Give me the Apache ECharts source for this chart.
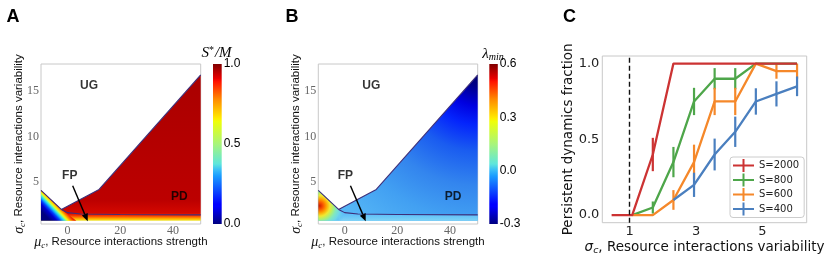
<!DOCTYPE html>
<html><head><meta charset="utf-8">
<script src="https://cdn.jsdelivr.net/npm/echarts@6/dist/echarts.min.js"></script>
<style>html,body{margin:0;padding:0;background:#fff}#c{width:830px;height:261px}</style>
</head><body><div id="c"></div>
<script>
// ---------- Panels A & B : phase diagram in (mu_c, sigma_c) ----------
const muAxis = [-10, 50.5];
const sigmaAxis = [0.4, 18];
const muTicks = [0, 20, 40];
const sigmaTicks = [5, 10, 15];
const sigmaGridMin = 0.75;
// UG / coexistence boundary
const ugBoundaryMu = [-10, -2.3, 12, 50.5];
const ugBoundarySigma = [4.1, 2.0, 4.2, 16.8];
// FP / PD boundary
const fpBoundaryMu = [-2.3, 0, 5, 20, 50.5];
const fpBoundarySigma = [2.0, 1.65, 1.5, 1.45, 1.4];
// isoline bounding the extinct / FP wedge (lower-left corner)
const fpWedgeMu = [-10, -0.6];
const fpWedgeSigma = [3.75, 0.9];
// location of the largest lambda_min (panel B) and of the most negative one
const lambdaPeakMu = -9.5, lambdaPeakSigma = 2.4;
const lambdaLowMu = 50.5, lambdaLowSigma = 17.2;
// phase labels
const phaseLabels = ['UG', 'FP', 'PD'];
const labelMuA = [8.2, 0.9, 42.4];
const labelMuB = [10.1, 0.3, 41.2];
const labelSigma = [15.6, 5.7, 3.4];
const arrowMuA = [2.0, 7.7];
const arrowMuB = [2.2, 8.0];
const arrowSigma = [4.6, 0.7];
// colorbars
const cbA = [0, 1];
const cbATicks = [0, 0.5, 1.0];
const cbB = [-0.3, 0.6];
const cbBTicks = [-0.3, 0, 0.3, 0.6];

// ---------- Panel C ----------
const sigmaC = [0.46, 1.08, 1.7, 2.32, 2.94, 3.56, 4.18, 4.8, 5.42, 6.04];
const cXTicks = [1, 3, 5];
const cYTicks = [0, 0.5, 1.0];
const thresholdSigma = 1;
const sizes = ['S=2000', 'S=800', 'S=600', 'S=400'];
const frac2000 = [0, 0, 0.4, 1, 1, 1, 1, 1, 1, 1];
const err2000  = [0, 0, 0.11, 0, 0, 0, 0, 0, 0, 0];
const frac800  = [null, 0, 0.05, 0.35, 0.75, 0.9, 0.9, 1, 1, 1];
const err800   = [null, 0, 0.04, 0.1, 0.09, 0.07, 0.07, 0, 0, 0];
const frac600  = [null, 0, 0, 0.1, 0.35, 0.75, 0.75, 1, 0.95, 0.95];
const err600   = [null, 0, 0, 0.065, 0.115, 0.09, 0.09, 0, 0.05, 0.05];
const frac400  = [null, null, null, 0.1, 0.2, 0.4, 0.55, 0.75, 0.8, 0.85];
const err400   = [null, null, null, 0, 0.08, 0.105, 0.1, 0.087, 0.083, 0.065];

// ---------- styles ----------
const SANS = 'Liberation Sans', SERIF = 'Liberation Serif', DV = 'DejaVu Sans';
const G = echarts.graphic;
const jet = [
  [0, '#000080'], [0.11, '#0000ff'], [0.125, '#0000ff'], [0.30, '#1a9cff'], [0.34, '#3cc0f6'],
  [0.375, '#5fe6dc'], [0.5, '#a8f57a'], [0.64, '#eeff08'], [0.66, '#ffec00'], [0.78, '#ff8a00'],
  [0.89, '#ff1300'], [0.91, '#e80000'], [1, '#800000']
];
const fieldAStops = [[0.75, '#eee83a'], [0.95, '#ffbe00'], [1.15, '#ff7000'], [1.38, '#f02800'],
  [1.6, '#d40800'], [3, '#bc0000'], [18, '#a80000']];
const wedgeAStops = [[0, '#00007f'], [0.2, '#0000d0'], [0.3, '#0040ff'], [0.38, '#10b0ff'], [0.44, '#40ecd8'],
  [0.5, '#c0ff50'], [0.55, '#ffe800'], [0.62, '#ff9000'], [0.72, '#f52000'], [0.85, 'rgba(215,5,0,0.8)'], [1, 'rgba(200,0,0,0)']];
const fieldBStops = [[0, '#000060'], [0.08, '#00008c'], [0.18, '#0000e0'], [0.28, '#0424fc'],
  [0.42, '#1a5cf0'], [0.6, '#3385ee'], [0.78, '#42a0f2'], [1, '#55b6f6']];
const blobBStops = [[0, '#cc2000'], [0.12, '#f85000'], [0.25, '#ffa000'], [0.38, '#f0e830'],
  [0.5, '#b0f070'], [0.62, '#80e8c0'], [0.76, '#70d8e8'], [0.9, 'rgba(100,200,244,0.6)'], [1, 'rgba(95,190,245,0)']];

function stops(arr) { return arr.map(([o, c]) => ({offset: o, color: c})); }

function phaseRender(panel) {
  return function (params, api) {
    const c = p => api.coord(p);
    const top = ugBoundaryMu.map((m, i) => [m, ugBoundarySigma[i]]);
    const full = top.concat([[muAxis[1], sigmaGridMin], [muAxis[0], sigmaGridMin]]).map(c);
    const yBot = c([0, sigmaGridMin])[1], yTop = c([0, sigmaAxis[1]])[1];
    const children = [];
    if (panel === 'A') {
      const span = sigmaAxis[1] - sigmaGridMin;
      const st = fieldAStops.map(([s, col]) => ({offset: (s - sigmaGridMin) / span, color: col}));
      children.push({type: 'polygon', shape: {points: full}, style: {fill: new G.LinearGradient(0, yBot, 0, yTop, st, true)}});
      const P = c([fpWedgeMu[0], fpWedgeSigma[0]]), Q = c([fpWedgeMu[1], fpWedgeSigma[1]]);
      const dx = Q[0] - P[0], dy = Q[1] - P[1], L = Math.hypot(dx, dy);
      const nx = dy / L, ny = -dx / L, M = [(P[0] + Q[0]) / 2, (P[1] + Q[1]) / 2], w = 12;
      const wedge = [[ugBoundaryMu[0], ugBoundarySigma[0]], [ugBoundaryMu[1], ugBoundarySigma[1]],
        [fpWedgeMu[1] + 4, sigmaGridMin], [muAxis[0], sigmaGridMin]].map(c);
      children.push({type: 'polygon', shape: {points: wedge},
        style: {fill: new G.LinearGradient(M[0] - nx * w, M[1] - ny * w, M[0] + nx * w, M[1] + ny * w, stops(wedgeAStops), true)}});
    } else {
      const ctr = c([lambdaLowMu, lambdaLowSigma]);
      children.push({type: 'polygon', shape: {points: full}, style: {fill: new G.RadialGradient(ctr[0], ctr[1], 190, stops(fieldBStops), true)}});
      const strip = fpBoundaryMu.map((m, i) => [m, fpBoundarySigma[i]])
        .concat([[muAxis[1], sigmaGridMin], [fpBoundaryMu[0], sigmaGridMin]]).map(c);
      const yl = c([0, fpBoundarySigma[4]])[1];
      children.push({type: 'polygon', shape: {points: strip},
        style: {fill: new G.LinearGradient(0, yBot, 0, yl, [{offset: 0, color: '#80d4f6'}, {offset: 1, color: '#60c0f8'}], true)}});
      const pk = c([lambdaPeakMu, lambdaPeakSigma]);
      const wedge = [[ugBoundaryMu[0], ugBoundarySigma[0]], [ugBoundaryMu[1], ugBoundarySigma[1]],
        [fpWedgeMu[1] + 1.5, sigmaGridMin], [muAxis[0], sigmaGridMin]].map(c);
      children.push({type: 'polygon', shape: {points: wedge}, style: {fill: new G.RadialGradient(pk[0], pk[1], 27, stops(blobBStops), true)}});
    }
    return {type: 'group', children};
  };
}

function arrowRender(params, api) {
  const a = api.coord([api.value(0), api.value(1)]);
  const b = api.coord([api.value(2), api.value(3)]);
  const dx = b[0] - a[0], dy = b[1] - a[1], L = Math.hypot(dx, dy);
  const ux = dx / L, uy = dy / L, hl = 7.5, hw = 3.2;
  const base = [b[0] - ux * hl, b[1] - uy * hl];
  return {type: 'group', children: [
    {type: 'line', shape: {x1: a[0], y1: a[1], x2: base[0], y2: base[1]}, style: {stroke: '#000', lineWidth: 1.4}},
    {type: 'polygon', shape: {points: [b, [base[0] - uy * hw, base[1] + ux * hw], [base[0] + uy * hw, base[1] - ux * hw]]},
      style: {fill: '#000'}}
  ]};
}

function colorbarRender(range) {
  return function (params, api) {
    const a = api.coord([0, range[1]]), b = api.coord([1, range[0]]);
    return {type: 'rect', shape: {x: a[0], y: a[1], width: b[0] - a[0], height: b[1] - a[1]},
      style: {fill: new G.LinearGradient(0, b[1], 0, a[1], stops(jet), true)}};
  };
}

const phaseRich = {
  g: {fontFamily: SERIF, fontStyle: 'italic', fontSize: 14, color: '#111'},
  s: {fontFamily: SERIF, fontStyle: 'italic', fontSize: 9, color: '#111', padding: [7, 0, 0, 0]},
  t: {fontFamily: SANS, fontSize: 11.5, color: '#111'}
};
const cRich = {
  g: {fontFamily: DV, fontStyle: 'italic', fontSize: 13.5, color: '#111'},
  s: {fontFamily: DV, fontStyle: 'italic', fontSize: 9.5, color: '#111', padding: [7, 0, 0, 0]},
  t: {fontFamily: DV, fontSize: 13.5, color: '#111'}
};

function phaseX(gi) {
  return {gridIndex: gi, type: 'value', min: muAxis[0], max: muAxis[1],
    name: '{g|μ}{s|c}{t|, Resource interactions strength}', nameLocation: 'middle', nameGap: 10,
    nameMoveOverlap: false, nameTextStyle: {rich: phaseRich},
    axisLine: {show: false}, axisTick: {show: false}, splitLine: {show: false},
    axisLabel: {customValues: muTicks, margin: 1, fontFamily: SERIF, fontSize: 12, color: '#666'}};
}
function phaseY(gi) {
  return {gridIndex: gi, type: 'value', min: sigmaAxis[0], max: sigmaAxis[1],
    name: '{g|σ}{s|c}{t|, Resource interactions variability}', nameLocation: 'middle', nameGap: 14,
    nameMoveOverlap: false, nameTextStyle: {rich: phaseRich},
    axisLine: {show: false}, axisTick: {show: false}, splitLine: {show: false},
    axisLabel: {customValues: sigmaTicks, margin: 2, fontFamily: SERIF, fontSize: 12, color: '#666'}};
}
function cbX(gi) { return {gridIndex: gi, type: 'value', min: 0, max: 1, show: false}; }
function cbY(gi, range, ticks) {
  return {gridIndex: gi, type: 'value', position: 'right', min: range[0], max: range[1],
    axisLine: {show: false}, axisTick: {show: false}, splitLine: {show: false},
    axisLabel: {customValues: ticks, formatter: v => v.toFixed(1), margin: 2, fontFamily: SANS, fontSize: 12, color: '#000'}};
}

function phaseSeries(panel, xi) {
  const labelMu = panel === 'A' ? labelMuA : labelMuB;
  const arrowMu = panel === 'A' ? arrowMuA : arrowMuB;
  const lineStyle = {color: '#3d2f7a', width: 1.1};
  return [
    {type: 'custom', xAxisIndex: xi, yAxisIndex: xi, renderItem: phaseRender(panel), data: [[muAxis[0], sigmaAxis[0]]], silent: true, z: 1},
    {type: 'line', xAxisIndex: xi, yAxisIndex: xi, data: ugBoundaryMu.map((m, i) => [m, ugBoundarySigma[i]]),
      symbol: 'none', lineStyle, silent: true, z: 3},
    {type: 'line', xAxisIndex: xi, yAxisIndex: xi, data: fpBoundaryMu.map((m, i) => [m, fpBoundarySigma[i]]),
      symbol: 'none', lineStyle, silent: true, z: 3},
    {type: 'scatter', xAxisIndex: xi, yAxisIndex: xi, silent: true, z: 5, symbolSize: 1,
      itemStyle: {color: 'rgba(0,0,0,0)'},
      data: phaseLabels.map((n, i) => ({name: n, value: [labelMu[i], labelSigma[i]]})),
      label: {show: true, position: 'inside', formatter: '{b}', fontFamily: SANS, fontWeight: 'bold', fontSize: 12, color: '#000'}},
    {type: 'custom', xAxisIndex: xi, yAxisIndex: xi, silent: true, z: 6, renderItem: arrowRender,
      data: [[arrowMu[0], arrowSigma[0], arrowMu[1], arrowSigma[1]]]}
  ];
}

const cColors = ['#cc3333', '#4ea64a', '#f5882a', '#4a7fbf'];
const cFrac = [frac2000, frac800, frac600, frac400];
const cErr = [err2000, err800, err600, err400];
function errRender(params, api) {
  const x = api.value(0), y = api.value(1), e = api.value(2);
  if (!(e > 0)) return null;
  const p0 = api.coord([x, y - e]), p1 = api.coord([x, y + e]);
  return {type: 'line', shape: {x1: p0[0], y1: p0[1], x2: p1[0], y2: p1[1]},
    style: {stroke: api.visual('color'), lineWidth: 2.2}};
}
const cSeries = [];
[1, 2, 3, 0].forEach(k => {
  const pts = sigmaC.map((x, i) => cFrac[k][i] == null ? null : [x, cFrac[k][i], cErr[k][i]]).filter(p => p);
  const line = {type: 'line', name: sizes[k], xAxisIndex: 4, yAxisIndex: 4, data: pts.map(p => [p[0], p[1]]),
    symbol: 'none', color: cColors[k], lineStyle: {width: 2.3, color: cColors[k]}, silent: true, z: 2};
  if (k === 0) {
    line.markLine = {silent: true, symbol: 'none', animation: false, label: {show: false},
      lineStyle: {color: '#111', width: 1.4, type: [5, 3]}, data: [{xAxis: thresholdSigma}]};
  }
  cSeries.push(line);
  cSeries.push({type: 'custom', name: sizes[k], xAxisIndex: 4, yAxisIndex: 4, data: pts,
    renderItem: errRender, color: cColors[k], itemStyle: {color: cColors[k]}, silent: true, z: 2});
});

const chart = echarts.init(document.getElementById('c'), null, {renderer: 'canvas'});
chart.setOption({
  animation: false,
  backgroundColor: '#fff',
  grid: [
    {left: 41, top: 64, width: 159.7, height: 160, show: true, borderColor: '#c8c8c8', borderWidth: 1, backgroundColor: 'transparent', outerBoundsMode: 'none'},
    {left: 213, top: 64, width: 8.7, height: 160, outerBoundsMode: 'none'},
    {left: 318.3, top: 64, width: 159.4, height: 160, show: true, borderColor: '#c8c8c8', borderWidth: 1, backgroundColor: 'transparent', outerBoundsMode: 'none'},
    {left: 489.3, top: 64, width: 8.5, height: 160, outerBoundsMode: 'none'},
    {left: 602.3, top: 56, width: 204.4, height: 166.7, show: true, borderColor: '#c8c8c8', borderWidth: 1, backgroundColor: 'transparent', outerBoundsMode: 'none'}
  ],
  xAxis: [phaseX(0), cbX(1), phaseX(2), cbX(3),
    {gridIndex: 4, type: 'value', min: 0.18, max: 6.33,
      name: '{g|σ}{s|c}{t|, Resource interactions variability}', nameLocation: 'middle', nameGap: 16,
      nameMoveOverlap: false, nameTextStyle: {rich: cRich},
      axisLine: {show: false}, axisTick: {show: false}, splitLine: {show: false},
      axisLabel: {customValues: cXTicks, margin: 2, fontFamily: DV, fontSize: 13, color: '#222'}}],
  yAxis: [phaseY(0), cbY(1, cbA, cbATicks), phaseY(2), cbY(3, cbB, cbBTicks),
    {gridIndex: 4, type: 'value', min: -0.05, max: 1.05,
      name: 'Persistent dynamics fraction', nameLocation: 'middle', nameGap: 27, nameMoveOverlap: false,
      nameTextStyle: {fontFamily: DV, fontSize: 13.5, color: '#111'},
      axisLine: {show: false}, axisTick: {show: false}, splitLine: {show: false},
      axisLabel: {customValues: cYTicks, formatter: v => v.toFixed(1), margin: 3, fontFamily: DV, fontSize: 13, color: '#222'}}],
  legend: {
    data: sizes.map(n => ({name: n, icon: 'path://M0,5.5h21v2h-21z M9.5,0h2v13h-2z'})),
    orient: 'vertical', left: 730, top: 157, itemWidth: 21, itemHeight: 13, itemGap: 1.5,
    padding: [2, 5, 2, 3], borderColor: '#cccccc', borderWidth: 1, borderRadius: 3, backgroundColor: '#fff',
    textStyle: {fontFamily: DV, fontSize: 10, color: '#222'}, selectedMode: false
  },
  graphic: [
    {type: 'text', x: 6.5, y: 17.5, style: {text: 'A', font: 'bold 18px "Liberation Sans"', fill: '#000', verticalAlign: 'middle'}},
    {type: 'text', x: 285.5, y: 17.5, style: {text: 'B', font: 'bold 18px "Liberation Sans"', fill: '#000', verticalAlign: 'middle'}},
    {type: 'text', x: 563, y: 17.5, style: {text: 'C', font: 'bold 18px "Liberation Sans"', fill: '#000', verticalAlign: 'middle'}},
    {type: 'text', x: 216.5, y: 53, style: {text: '{i|S}{p|*}{i|/M}', align: 'center', verticalAlign: 'middle',
      rich: {i: {fontFamily: SERIF, fontStyle: 'italic', fontSize: 15, fill: '#000'},
             p: {fontFamily: SERIF, fontSize: 10, fill: '#000', padding: [0, 1, 6, 0]}}}},
    {type: 'text', x: 493, y: 54, style: {text: '{i|λ}{s|min}', align: 'center', verticalAlign: 'middle',
      rich: {i: {fontFamily: SERIF, fontStyle: 'italic', fontSize: 15, fill: '#000'},
             s: {fontFamily: SERIF, fontStyle: 'italic', fontSize: 10, fill: '#000', padding: [7, 0, 0, 0]}}}}
  ],
  series: [].concat(
    phaseSeries('A', 0),
    [{type: 'custom', xAxisIndex: 1, yAxisIndex: 1, renderItem: colorbarRender(cbA), data: [[0, cbA[0]]], silent: true}],
    phaseSeries('B', 2),
    [{type: 'custom', xAxisIndex: 3, yAxisIndex: 3, renderItem: colorbarRender(cbB), data: [[0, cbB[0]]], silent: true}],
    cSeries
  )
});
</script></body></html>
